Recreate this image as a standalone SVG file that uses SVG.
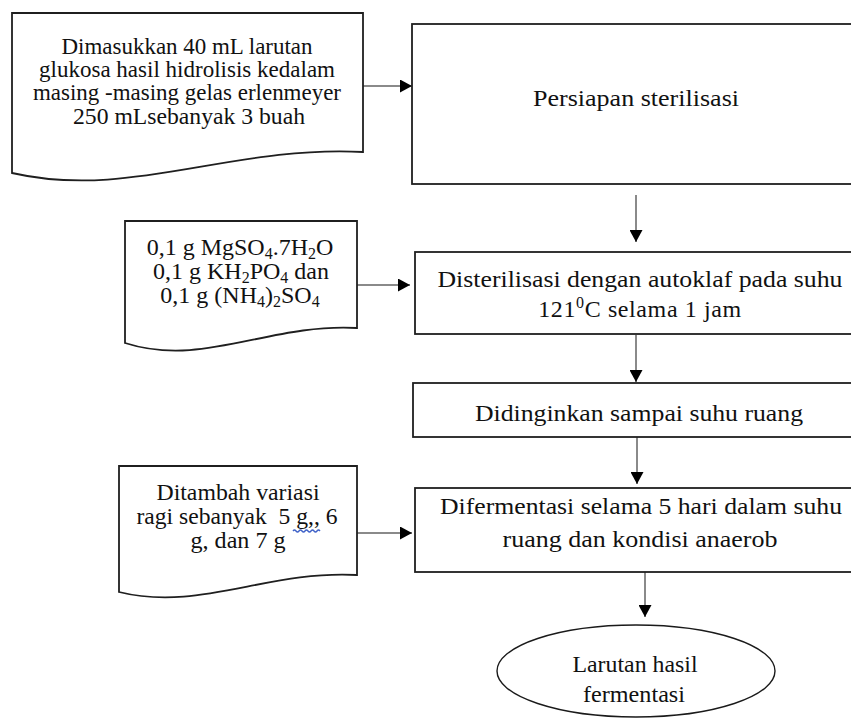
<svg xmlns="http://www.w3.org/2000/svg" width="851" height="720" viewBox="0 0 851 720">
  <style>
    .box { fill: #ffffff; stroke: #1f1f1f; stroke-width: 1.8; }
    .oval { fill: #ffffff; stroke: #1a1a1a; stroke-width: 1.4; }
    .lbl { font-family: "Liberation Serif", "Times New Roman", serif; font-size: 24px; fill: #111111; text-anchor: middle; }
    .sub { font-size: 16px; }
    .link { stroke: #8a8a8a; stroke-width: 2; fill: none; }
    .spell { stroke: #3f62c8; stroke-width: 1.3; fill: none; }
  </style>
  <defs>
    <marker id="head" markerUnits="userSpaceOnUse" markerWidth="13" markerHeight="13" refX="12" refY="6.5" orient="auto">
      <path d="M0,0 L12,6.5 L0,13 Z" fill="#000000"/>
    </marker>
  </defs>

  <rect width="851" height="720" fill="#ffffff"/>

  <!-- flow connectors -->
  <g id="connectors">
    <line class="link" x1="363" y1="86" x2="412" y2="86" marker-end="url(#head)"/>
    <line class="link" x1="357" y1="285" x2="410" y2="285" marker-end="url(#head)"/>
    <line class="link" x1="357" y1="533" x2="412" y2="533" marker-end="url(#head)"/>
    <line class="link" x1="636" y1="195" x2="636" y2="242" marker-end="url(#head)"/>
    <line class="link" x1="636" y1="335" x2="636" y2="382" marker-end="url(#head)"/>
    <line class="link" x1="637" y1="437" x2="637" y2="484" marker-end="url(#head)"/>
    <line class="link" x1="645" y1="572" x2="645" y2="617" marker-end="url(#head)"/>
  </g>

  <!-- input document: glucose solution -->
  <g id="doc-glukosa">
    <path class="box" d="M12,13 H363 V152 C230,145 130,200 12,173 Z"/>
    <text class="lbl" x="187" y="54" textLength="251" lengthAdjust="spacingAndGlyphs">Dimasukkan 40 mL larutan</text>
    <text class="lbl" x="187" y="77" textLength="296" lengthAdjust="spacingAndGlyphs">glukosa hasil hidrolisis  kedalam</text>
    <text class="lbl" x="187" y="100" textLength="308" lengthAdjust="spacingAndGlyphs">masing -masing gelas erlenmeyer</text>
    <text class="lbl" x="189" y="124" textLength="232" lengthAdjust="spacingAndGlyphs">250 mLsebanyak 3 buah</text>
  </g>

  <!-- input document: nutrient salts -->
  <g id="doc-nutrisi">
    <path class="box" d="M125,221 H357 V328 C269,323 203,368 125,343 Z"/>
    <text class="lbl" x="240" y="255">0,1 g MgSO<tspan class="sub" dy="4">4</tspan><tspan dy="-4">.7H</tspan><tspan class="sub" dy="4">2</tspan><tspan dy="-4">O</tspan></text>
    <text class="lbl" x="241" y="279">0,1 g KH<tspan class="sub" dy="4">2</tspan><tspan dy="-4">PO</tspan><tspan class="sub" dy="4">4</tspan><tspan dy="-4"> dan</tspan></text>
    <text class="lbl" x="240" y="303">0,1 g (NH<tspan class="sub" dy="4">4</tspan><tspan dy="-4">)</tspan><tspan class="sub" dy="4">2</tspan><tspan dy="-4">SO</tspan><tspan class="sub" dy="4">4</tspan></text>
  </g>

  <!-- input document: yeast variation -->
  <g id="doc-ragi">
    <path class="box" d="M119,466 H357 V575 C267,570 199,612 119,592 Z"/>
    <text class="lbl" x="238" y="500" textLength="163" lengthAdjust="spacingAndGlyphs">Ditambah variasi</text>
    <text class="lbl" x="237" y="524" textLength="201" lengthAdjust="spacingAndGlyphs" xml:space="preserve">ragi sebanyak  5 g,, 6</text>
    <path class="spell" d="M293,531 q1.5,-2 3,0 t3,0 t3,0 t3,0 t3,0 t3,0 t3,0 t3,0 t3,0"/>
    <text class="lbl" x="238" y="548" textLength="95" lengthAdjust="spacingAndGlyphs">g, dan 7 g</text>
  </g>

  <!-- process steps -->
  <g id="step-persiapan">
    <rect class="box" x="412" y="24" width="460" height="160"/>
    <text class="lbl" x="636" y="106" textLength="206" lengthAdjust="spacingAndGlyphs">Persiapan sterilisasi</text>
  </g>

  <g id="step-sterilisasi">
    <rect class="box" x="415" y="252" width="460" height="82"/>
    <text class="lbl" x="640" y="287" textLength="405" lengthAdjust="spacingAndGlyphs">Disterilisasi dengan autoklaf pada suhu</text>
    <text class="lbl" x="640" y="317" letter-spacing="0.6">121<tspan class="sub" dy="-9">0</tspan><tspan dy="9">C selama 1 jam</tspan></text>
  </g>

  <g id="step-pendinginan">
    <rect class="box" x="413" y="383" width="460" height="54"/>
    <text class="lbl" x="639" y="421" textLength="328" lengthAdjust="spacingAndGlyphs">Didinginkan sampai suhu ruang</text>
  </g>

  <g id="step-fermentasi">
    <rect class="box" x="415" y="488" width="460" height="84"/>
    <text class="lbl" x="641" y="514" textLength="402" lengthAdjust="spacingAndGlyphs">Difermentasi selama 5 hari dalam suhu</text>
    <text class="lbl" x="640" y="547" textLength="275" lengthAdjust="spacingAndGlyphs">ruang dan kondisi anaerob</text>
  </g>

  <!-- result terminator -->
  <g id="hasil">
    <ellipse class="oval" cx="636" cy="671" rx="139" ry="46"/>
    <text class="lbl" x="635" y="672" textLength="125" lengthAdjust="spacingAndGlyphs">Larutan hasil</text>
    <text class="lbl" x="634" y="702" textLength="102" lengthAdjust="spacingAndGlyphs">fermentasi</text>
  </g>
</svg>
